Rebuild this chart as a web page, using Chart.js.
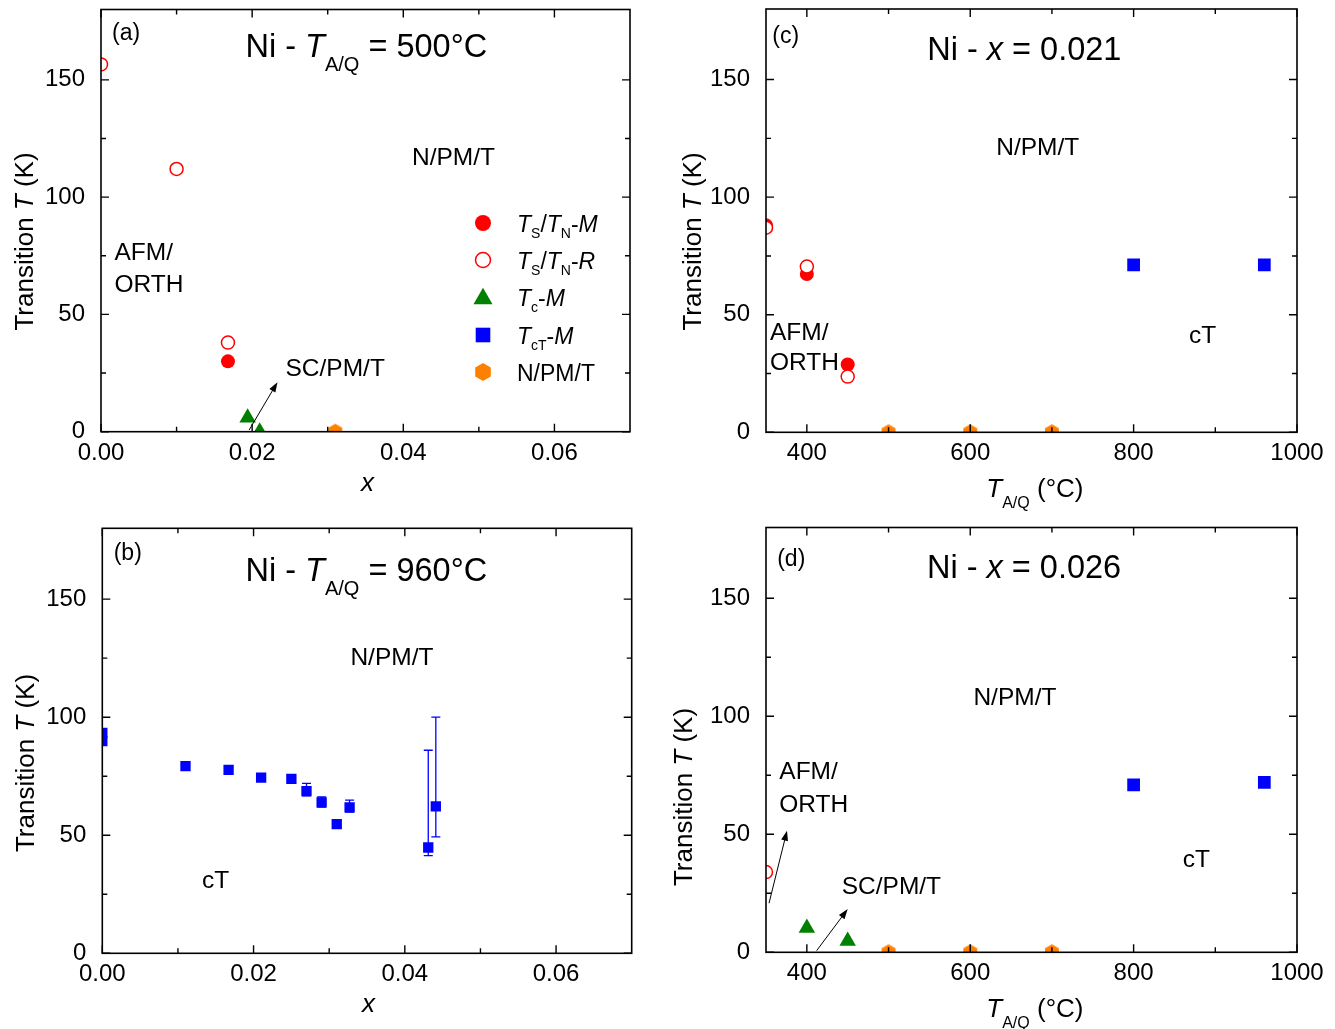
<!DOCTYPE html>
<html>
<head>
<meta charset="utf-8">
<title>Ni-doped phase diagrams</title>
<script src="https://cdn.jsdelivr.net/npm/chart.js@4.4.1/dist/chart.umd.min.js"></script>
<style>
  html, body { margin: 0; padding: 0; background: #fff; }
  #wrap { position: relative; width: 1335px; height: 1029px; overflow: hidden; background: #fff; }
  #wrap canvas { position: absolute; left: 0; top: 0; }
</style>
</head>
<body>
<div id="wrap">
  <canvas id="pa" width="1335" height="1029"></canvas>
  <canvas id="pb" width="1335" height="1029"></canvas>
  <canvas id="pc" width="1335" height="1029"></canvas>
  <canvas id="pd" width="1335" height="1029"></canvas>
</div>
<script>
// ---------------- data ----------------
// (a) Ni, T_A/Q = 500 °C : transition temperatures (K) vs. Ni content x
const a_TsTnM_x = [0.0168];
const a_TsTnM_T = [30.0];
const a_TsTnR_x = [0.0, 0.0100, 0.0168];
const a_TsTnR_T = [156.6, 112.0, 38.0];
const a_TcM_x   = [0.0194, 0.0210];
const a_TcM_T   = [6.0, 0.0];
const a_NPMT_x  = [0.031];
const a_NPMT_T  = [0.0];

// (b) Ni, T_A/Q = 960 °C : collapsed-tetragonal transition vs. x (asymmetric errors)
const b_TcTM_x      = [0.0, 0.0, 0.0110, 0.0167, 0.0210, 0.0250, 0.0270, 0.0290, 0.0310, 0.0327, 0.0431, 0.0441];
const b_TcTM_T      = [93.3, 89.9, 79.3, 77.7, 74.4, 73.9, 68.7, 63.9, 54.7, 61.8, 44.8, 62.2];
const b_TcTM_errUp  = [0, 0, 0, 0, 0, 0, 3.3, 2.3, 0, 3.1, 41.2, 37.8];
const b_TcTM_errDn  = [0, 0, 0, 0, 0, 0, 2.0, 2.0, 0, 2.0, 3.4, 12.9];

// (c) Ni, x = 0.021 : transition temperatures vs. anneal/quench temperature (°C)
const c_TsTnM_x = [350, 400, 450];
const c_TsTnM_T = [88.0, 67.3, 28.8];
const c_TsTnR_x = [350, 400, 450];
const c_TsTnR_T = [87.0, 70.5, 23.7];
const c_TcTM_x  = [800, 960];
const c_TcTM_T  = [71.2, 71.2];
const c_NPMT_x  = [500, 600, 700];
const c_NPMT_T  = [0, 0, 0];

// (d) Ni, x = 0.026 : transition temperatures vs. anneal/quench temperature (°C)
const d_TsTnR_x = [350];
const d_TsTnR_T = [34.0];
const d_TcM_x   = [400, 450];
const d_TcM_T   = [10.3, 4.8];
const d_TcTM_x  = [800, 960];
const d_TcTM_T  = [70.9, 72.0];
const d_NPMT_x  = [500, 600, 700];
const d_NPMT_T  = [0, 0, 0];

// axes
const xRangeComp   = [0, 0.07];
const xTicksComp   = [0, 0.02, 0.04, 0.06];
const xMinorComp   = [0.01, 0.03, 0.05];
const xRangeAnneal = [350, 1000];
const xTicksAnneal = [400, 600, 800, 1000];
const xMinorAnneal = [500, 700, 900];
const yRange       = [0, 180];
const yTicks       = [0, 50, 100, 150];
const yMinor       = [25, 75, 125];

// ---------------- styling ----------------
const RED = '#ff0000', GREEN = '#008000', BLUE = '#0000ff', ORANGE = '#ff8000';
const FAMILY = '"Liberation Sans", Arial, Helvetica, sans-serif';
const W = 1335, H = 1029;
const Y_AXIS_W = 70, X_AXIS_H = 40;

Chart.defaults.font.family = FAMILY;
Chart.defaults.color = '#000';

function hexagonImage(R, color) {
  const s = Math.ceil(2 * R + 2);
  const c = document.createElement('canvas');
  c.width = s; c.height = s;
  const g = c.getContext('2d');
  g.fillStyle = color;
  g.beginPath();
  for (let k = 0; k < 6; k++) {
    const a = -Math.PI / 2 + k * Math.PI / 3;
    const px = s / 2 + R * Math.cos(a), py = s / 2 + R * Math.sin(a);
    if (k) g.lineTo(px, py); else g.moveTo(px, py);
  }
  g.closePath();
  g.fill();
  return c;
}
const HEX_PLOT = hexagonImage(8, ORANGE);
const HEX_LEGEND = hexagonImage(9, ORANGE);

function pts(xs, ys) { return xs.map((x, i) => ({ x: x, y: ys[i] })); }

// Chart.js paints dataset 0 last, so the first dataset in a list ends up on top
function series(label, xs, ys, kind, size) {
  const base = { label: label, data: pts(xs, ys), showLine: false, clip: 0, pointHoverRadius: 0 };
  if (kind === 'filled') Object.assign(base, { pointStyle: 'circle', pointRadius: 7, pointBackgroundColor: RED, pointBorderColor: RED, pointBorderWidth: 0 });
  if (kind === 'open') Object.assign(base, { pointStyle: 'circle', pointRadius: 6.5, pointBackgroundColor: '#ffffff', pointBorderColor: RED, pointBorderWidth: 1.5 });
  if (kind === 'tri') Object.assign(base, { pointStyle: 'triangle', pointRadius: 9.5, pointBackgroundColor: GREEN, pointBorderColor: GREEN, pointBorderWidth: 0 });
  if (kind === 'square') Object.assign(base, { pointStyle: 'rect', pointRadius: size || 9, pointBackgroundColor: BLUE, pointBorderColor: BLUE, pointBorderWidth: 0 });
  if (kind === 'hex') Object.assign(base, { pointStyle: HEX_PLOT, pointRadius: 8 });
  return base;
}

// text helpers: parts are [string, flags] with flags 'i' = italic, 's' = subscript
function fontStr(size, italic) { return (italic ? 'italic ' : '') + size + 'px ' + FAMILY; }
function richWidth(ctx, t) {
  let w = 0;
  for (const p of t.parts) {
    const f = p[1] || '';
    ctx.font = fontStr(f.includes('s') ? t.sub : t.size, f.includes('i'));
    w += ctx.measureText(p[0]).width;
  }
  return w;
}
function drawRich(ctx, t) {
  ctx.save();
  ctx.translate(t.x, t.y);
  if (t.rot) ctx.rotate(t.rot);
  ctx.textBaseline = 'alphabetic';
  ctx.textAlign = 'left';
  ctx.fillStyle = '#000';
  let cx = t.align === 'center' ? -richWidth(ctx, t) / 2 : 0;
  for (const p of t.parts) {
    const f = p[1] || '';
    const sub = f.includes('s');
    ctx.font = fontStr(sub ? t.sub : t.size, f.includes('i'));
    ctx.fillText(p[0], cx, sub ? t.subDy : 0);
    cx += ctx.measureText(p[0]).width;
  }
  ctx.restore();
}

function drawArrow(ctx, x0, y0, x1, y1) {
  const ang = Math.atan2(y1 - y0, x1 - x0);
  const L = 10, hw = 3.5;
  ctx.save();
  ctx.strokeStyle = '#000'; ctx.fillStyle = '#000'; ctx.lineWidth = 1;
  ctx.beginPath();
  ctx.moveTo(x0, y0);
  ctx.lineTo(x1 - L * 0.8 * Math.cos(ang), y1 - L * 0.8 * Math.sin(ang));
  ctx.stroke();
  ctx.beginPath();
  ctx.moveTo(x1, y1);
  ctx.lineTo(x1 - L * Math.cos(ang) + hw * Math.sin(ang), y1 - L * Math.sin(ang) - hw * Math.cos(ang));
  ctx.lineTo(x1 - L * Math.cos(ang) - hw * Math.sin(ang), y1 - L * Math.sin(ang) + hw * Math.cos(ang));
  ctx.closePath();
  ctx.fill();
  ctx.restore();
}

function drawLegendSymbol(ctx, kind, x, y) {
  ctx.save();
  if (kind === 'filled') { ctx.fillStyle = RED; ctx.beginPath(); ctx.arc(x, y, 8, 0, 2 * Math.PI); ctx.fill(); }
  if (kind === 'open') { ctx.strokeStyle = RED; ctx.lineWidth = 1.5; ctx.fillStyle = '#fff'; ctx.beginPath(); ctx.arc(x, y, 7.5, 0, 2 * Math.PI); ctx.fill(); ctx.stroke(); }
  if (kind === 'tri') { const r = 11; ctx.fillStyle = GREEN; ctx.beginPath(); ctx.moveTo(x, y - r * 0.75 - 1); ctx.lineTo(x + r * 0.866, y + r * 0.75 - 1); ctx.lineTo(x - r * 0.866, y + r * 0.75 - 1); ctx.closePath(); ctx.fill(); }
  if (kind === 'square') { ctx.fillStyle = BLUE; ctx.fillRect(x - 7.3, y - 7.3, 14.6, 14.6); }
  if (kind === 'hex') { ctx.drawImage(HEX_LEGEND, x - HEX_LEGEND.width / 2, y - HEX_LEGEND.height / 2); }
  ctx.restore();
}

// per-panel decorations (frame, inward ticks, labels, arrows, legend, error bars)
const decorSpecs = {};

const decorPlugin = {
  id: 'panelDecor',
  beforeDatasetsDraw(chart) {
    const spec = decorSpecs[chart.canvas.id];
    if (!spec || !spec.errors) return;
    const { ctx } = chart;
    const xs = chart.scales.x, ys = chart.scales.y;
    const e = spec.errors;
    ctx.save();
    ctx.strokeStyle = BLUE; ctx.lineWidth = 1.3;
    e.x.forEach((xv, i) => {
      const up = e.up[i], dn = e.dn[i];
      if (!up && !dn) return;
      const px = xs.getPixelForValue(xv);
      const pTop = ys.getPixelForValue(e.y[i] + up);
      const pBot = ys.getPixelForValue(e.y[i] - dn);
      ctx.beginPath();
      ctx.moveTo(px, pTop); ctx.lineTo(px, pBot);
      ctx.moveTo(px - 4.5, pTop); ctx.lineTo(px + 4.5, pTop);
      ctx.moveTo(px - 4.5, pBot); ctx.lineTo(px + 4.5, pBot);
      ctx.stroke();
    });
    ctx.restore();
  },
  afterDatasetsDraw(chart) {
    const spec = decorSpecs[chart.canvas.id];
    if (!spec) return;
    const { ctx, chartArea: a } = chart;
    const xs = chart.scales.x, ys = chart.scales.y;

    // frame and inward ticks on all four sides
    ctx.save();
    ctx.strokeStyle = '#000';
    ctx.lineWidth = 1.6;
    ctx.strokeRect(a.left, a.top, a.right - a.left, a.bottom - a.top);
    ctx.lineWidth = 1.4;
    const tick = (vals, len, horiz) => {
      vals.forEach(v => {
        ctx.beginPath();
        if (horiz) {
          const p = xs.getPixelForValue(v);
          ctx.moveTo(p, a.bottom); ctx.lineTo(p, a.bottom - len);
          ctx.moveTo(p, a.top); ctx.lineTo(p, a.top + len);
        } else {
          const p = ys.getPixelForValue(v);
          ctx.moveTo(a.left, p); ctx.lineTo(a.left + len, p);
          ctx.moveTo(a.right, p); ctx.lineTo(a.right - len, p);
        }
        ctx.stroke();
      });
    };
    tick(spec.xMajor, 8, true);
    tick(spec.xMinor, 5, true);
    tick(yTicks, 8, false);
    tick(yMinor, 5, false);
    ctx.restore();

    (spec.arrows || []).forEach(ar => {
      drawArrow(ctx, xs.getPixelForValue(ar[0]), ys.getPixelForValue(ar[1]),
                     xs.getPixelForValue(ar[2]), ys.getPixelForValue(ar[3]));
    });

    (spec.texts || []).forEach(t => drawRich(ctx, t));

    if (spec.legend) {
      const L = spec.legend;
      L.items.forEach((it, i) => {
        const y = L.rows[i];
        drawLegendSymbol(ctx, it.kind, L.symX, y);
        drawRich(ctx, { parts: it.parts, x: L.textX, y: y + 8.5, size: 23, sub: 14, subDy: 6.5 });
      });
    }
  }
};
Chart.register(decorPlugin);

function makePanel(id, area, xRange, xMajor, xMinor, xDecimals, datasets) {
  const ctx = document.getElementById(id);
  return new Chart(ctx, {
    type: 'scatter',
    data: { datasets: datasets },
    options: {
      responsive: false,
      animation: false,
      devicePixelRatio: 1,
      events: [],
      layout: {
        padding: {
          left: area.left - Y_AXIS_W,
          right: W - area.right,
          top: area.top,
          bottom: H - area.bottom - X_AXIS_H
        }
      },
      plugins: { legend: { display: false }, tooltip: { enabled: false }, title: { display: false } },
      scales: {
        x: {
          type: 'linear', min: xRange[0], max: xRange[1],
          afterBuildTicks: s => { s.ticks = xMajor.map(v => ({ value: v })); },
          afterFit: s => { s.height = X_AXIS_H; s.paddingLeft = 0; s.paddingRight = 0; },
          grid: { display: false }, border: { display: false },
          ticks: { padding: -1, font: { size: 24 }, color: '#000', maxRotation: 0, autoSkip: false,
                   callback: v => Number(v).toFixed(xDecimals) }
        },
        y: {
          type: 'linear', min: yRange[0], max: yRange[1],
          afterBuildTicks: s => { s.ticks = yTicks.map(v => ({ value: v })); },
          afterFit: s => { s.width = Y_AXIS_W; s.paddingTop = 0; s.paddingBottom = 0; },
          grid: { display: false }, border: { display: false },
          ticks: { padding: 8, font: { size: 24 }, color: '#000', autoSkip: false,
                   callback: v => Number(v).toFixed(0) }
        }
      }
    }
  });
}

// shared text pieces
const TITLE = { size: 32.5, sub: 20, subDy: 13.7 };
const LABEL = 24.5;
const yTitleParts = [['Transition '], ['T', 'i'], [' (K)']];
const tAQParts = [['T', 'i'], ['A/Q', 's'], [' (°C)']];
function txt(s, x, y) { return { parts: [[s]], x: x, y: y, size: LABEL }; }
function yTitle(xBase, yMid) { return { parts: yTitleParts, x: xBase, y: yMid, size: 26, rot: -Math.PI / 2, align: 'center' }; }

// ---- (a) ----
decorSpecs.pa = {
  xMajor: xTicksComp, xMinor: xMinorComp,
  arrows: [[0.0196, 0.7, 0.02335, 21.1]],
  texts: [
    { parts: [['(a)']], x: 112, y: 40, size: 23 },
    Object.assign({ parts: [['Ni - '], ['T', 'i'], ['A/Q', 's'], [' = 500°C']], x: 245.5, y: 57.3 }, TITLE),
    txt('N/PM/T', 412, 165),
    txt('AFM/', 114.5, 260),
    txt('ORTH', 114.5, 291.7),
    txt('SC/PM/T', 285.5, 376),
    { parts: [['x', 'i']], x: 367.5, y: 491, size: 26, align: 'center' },
    yTitle(33.3, 241.5)
  ],
  legend: {
    symX: 483, textX: 517, rows: [223, 260, 297, 335, 372],
    items: [
      { kind: 'filled', parts: [['T', 'i'], ['S', 's'], ['/'], ['T', 'i'], ['N', 's'], ['-'], ['M', 'i']] },
      { kind: 'open',   parts: [['T', 'i'], ['S', 's'], ['/'], ['T', 'i'], ['N', 's'], ['-'], ['R', 'i']] },
      { kind: 'tri',    parts: [['T', 'i'], ['c', 's'], ['-'], ['M', 'i']] },
      { kind: 'square', parts: [['T', 'i'], ['cT', 's'], ['-'], ['M', 'i']] },
      { kind: 'hex',    parts: [['N/PM/T']] }
    ]
  }
};
makePanel('pa', { left: 101, top: 7, right: 630, bottom: 431.7 }, xRangeComp, xTicksComp, xMinorComp, 2, [
  series('Ts/TN-R', a_TsTnR_x, a_TsTnR_T, 'open'),
  series('Ts/TN-M', a_TsTnM_x, a_TsTnM_T, 'filled'),
  series('Tc-M', a_TcM_x, a_TcM_T, 'tri'),
  series('N/PM/T', a_NPMT_x, a_NPMT_T, 'hex')
]);

// ---- (b) ----
decorSpecs.pb = {
  xMajor: xTicksComp, xMinor: xMinorComp,
  errors: { x: b_TcTM_x, y: b_TcTM_T, up: b_TcTM_errUp, dn: b_TcTM_errDn },
  texts: [
    { parts: [['(b)']], x: 113.7, y: 560, size: 23 },
    Object.assign({ parts: [['Ni - '], ['T', 'i'], ['A/Q', 's'], [' = 960°C']], x: 245.5, y: 581 }, TITLE),
    txt('N/PM/T', 350.4, 665),
    txt('cT', 202, 887.7),
    { parts: [['x', 'i']], x: 368.5, y: 1012, size: 26, align: 'center' },
    yTitle(33.7, 763)
  ]
};
makePanel('pb', { left: 102.3, top: 528.3, right: 631.7, bottom: 953.3 }, xRangeComp, xTicksComp, xMinorComp, 2, [
  series('TcT-M', b_TcTM_x, b_TcTM_T, 'square', 7.3)
]);

// ---- (c) ----
decorSpecs.pc = {
  xMajor: xTicksAnneal, xMinor: xMinorAnneal,
  texts: [
    { parts: [['(c)']], x: 772.3, y: 43, size: 23 },
    Object.assign({ parts: [['Ni - '], ['x', 'i'], [' = 0.021']], x: 927.2, y: 60 }, TITLE),
    txt('N/PM/T', 996.2, 155),
    txt('AFM/', 770, 340),
    txt('ORTH', 770, 370),
    txt('cT', 1189, 342.7),
    { parts: tAQParts, x: 986.3, y: 496.7, size: 26, sub: 16, subDy: 11.6 },
    yTitle(700.7, 241.5)
  ]
};
makePanel('pc', { left: 766, top: 8, right: 1297, bottom: 432.3 }, xRangeAnneal, xTicksAnneal, xMinorAnneal, 0, [
  series('Ts/TN-R', c_TsTnR_x, c_TsTnR_T, 'open'),
  series('Ts/TN-M', c_TsTnM_x, c_TsTnM_T, 'filled'),
  series('TcT-M', c_TcTM_x, c_TcTM_T, 'square', 9),
  series('N/PM/T', c_NPMT_x, c_NPMT_T, 'hex')
]);

// ---- (d) ----
decorSpecs.pd = {
  xMajor: xTicksAnneal, xMinor: xMinorAnneal,
  arrows: [[353.7, 20.8, 375.7, 51.5], [412, 0.7, 450, 18.3]],
  texts: [
    { parts: [['(d)']], x: 777.2, y: 566, size: 23 },
    Object.assign({ parts: [['Ni - '], ['x', 'i'], [' = 0.026']], x: 927, y: 578.3 }, TITLE),
    txt('N/PM/T', 973.4, 705),
    txt('AFM/', 779.3, 779.3),
    txt('ORTH', 779.3, 811.7),
    txt('SC/PM/T', 841.7, 894.3),
    txt('cT', 1182.8, 867.3),
    { parts: tAQParts, x: 986.3, y: 1017, size: 26, sub: 16, subDy: 11 },
    yTitle(692, 797)
  ]
};
makePanel('pd', { left: 766, top: 527.5, right: 1297, bottom: 952.3 }, xRangeAnneal, xTicksAnneal, xMinorAnneal, 0, [
  series('Ts/TN-R', d_TsTnR_x, d_TsTnR_T, 'open'),
  series('Tc-M', d_TcM_x, d_TcM_T, 'tri'),
  series('TcT-M', d_TcTM_x, d_TcTM_T, 'square', 9),
  series('N/PM/T', d_NPMT_x, d_NPMT_T, 'hex')
]);
</script>
</body>
</html>
